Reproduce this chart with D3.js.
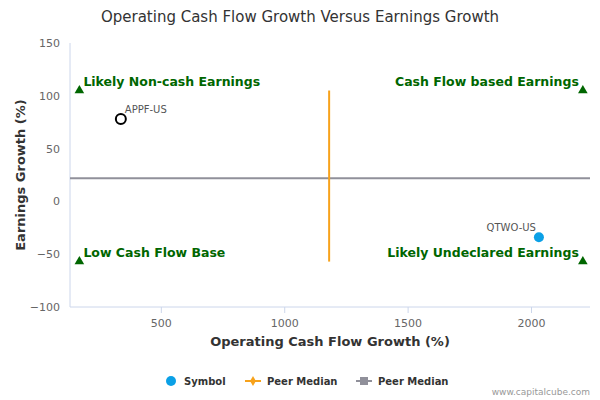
<!DOCTYPE html>
<html><head><meta charset="utf-8">
<script src="https://cdn.jsdelivr.net/npm/d3@7"></script>
<style>body{margin:0;background:#fff;font-family:"DejaVu Sans",sans-serif;}</style>
</head><body><div id="chart"></div>
<script>
var symbols = ["APPF-US", "QTWO-US"];
var cashGrowth = [338, 2032];
var earnGrowth = [78, -34];
var medianX = 1182;
var medianY = 22;
var xTicks = [500, 1000, 1500, 2000];
var yTicks = [150, 100, 50, 0, -50, -100];
var quadLabels = ["Likely Non-cash Earnings", "Cash Flow based Earnings", "Low Cash Flow Base", "Likely Undeclared Earnings"];
var triX = [170, 2210, 170, 2210];
var triY = [105, 105, -57, -57];

var svg = d3.select("#chart").append("svg").attr("width", 600).attr("height", 400);
var x = d3.scaleLinear().domain([132, 2239]).range([70, 590]);
var y = d3.scaleLinear().domain([-100, 150]).range([307, 43]);

svg.append("text").attr("x", 300).attr("y", 22).attr("text-anchor", "middle")
	.attr("font-size", 15).attr("fill", "#333").text("Operating Cash Flow Growth Versus Earnings Growth");

svg.append("line").attr("x1", 70).attr("x2", 590).attr("y1", 307).attr("y2", 307).attr("stroke", "#ccd6eb");
svg.append("line").attr("x1", 70).attr("x2", 70).attr("y1", 43).attr("y2", 307).attr("stroke", "#ccd6eb");

var xa = svg.append("g").attr("transform", "translate(0,307)")
	.call(d3.axisBottom(x).tickValues(xTicks).tickFormat(d3.format("d")).tickSize(6).tickPadding(6));
xa.select(".domain").remove();
xa.selectAll("line").attr("stroke", "#ccd6eb");
xa.selectAll("text").attr("fill", "#666").attr("font-size", 11).attr("font-family", "DejaVu Sans");

var ya = svg.append("g").attr("transform", "translate(62,0)")
	.call(d3.axisLeft(y).tickValues(yTicks).tickFormat(d3.format("d")).tickSize(0).tickPadding(2));
ya.select(".domain").remove();
ya.selectAll("text").attr("fill", "#666").attr("font-size", 11).attr("font-family", "DejaVu Sans");

svg.append("text").attr("x", 330).attr("y", 346).attr("text-anchor", "middle")
	.attr("font-size", 13).attr("font-weight", "bold").attr("fill", "#333").text("Operating Cash Flow Growth (%)");
svg.append("text").attr("transform", "translate(25,175) rotate(-90)").attr("text-anchor", "middle")
	.attr("font-size", 13).attr("font-weight", "bold").attr("fill", "#333").text("Earnings Growth (%)");

// medians
svg.append("line").attr("x1", x(132)).attr("x2", x(2239)).attr("y1", y(medianY)).attr("y2", y(medianY))
	.attr("stroke", "#90909a").attr("stroke-width", 2);
svg.append("line").attr("x1", x(medianX)).attr("x2", x(medianX)).attr("y1", y(105)).attr("y2", y(-57))
	.attr("stroke", "#f7a21b").attr("stroke-width", 2);

// quadrant markers
var tri = d3.symbol().type(d3.symbolTriangle).size(40);
quadLabels.forEach(function(t, i){
	svg.append("path").attr("d", tri).attr("transform", "translate(" + x(triX[i]) + "," + y(triY[i]) + ")").attr("fill", "#006600");
	var left = i % 2 == 0;
	svg.append("text").attr("x", left ? x(triX[i]) + 4 : x(triX[i]) - 4).attr("y", y(triY[i]) - 5)
		.attr("text-anchor", left ? "start" : "end").attr("font-size", 12.5).attr("font-weight", "bold")
		.attr("fill", "#006600").text(t);
});

// points
symbols.forEach(function(s, i){
	var cx = x(cashGrowth[i]), cy = y(earnGrowth[i]);
	if(i == 0){
		svg.append("circle").attr("cx", cx).attr("cy", cy).attr("r", 5).attr("fill", "#fff").attr("stroke", "#000").attr("stroke-width", 2);
		svg.append("text").attr("x", cx + 4).attr("y", cy - 6).attr("font-size", 10).attr("fill", "#555").text(s);
	} else {
		svg.append("circle").attr("cx", cx).attr("cy", cy).attr("r", 5).attr("fill", "#0ba0e6");
		svg.append("text").attr("x", cx - 3).attr("y", cy - 6).attr("text-anchor", "end").attr("font-size", 10).attr("fill", "#555").text(s);
	}
});

// legend
var lg = svg.append("g").attr("font-size", 10).attr("font-weight", "bold").attr("fill", "#333");
lg.append("circle").attr("cx", 171).attr("cy", 381).attr("r", 5).attr("fill", "#0ba0e6");
lg.append("text").attr("x", 184).attr("y", 385).text("Symbol");
lg.append("line").attr("x1", 245).attr("x2", 261).attr("y1", 381).attr("y2", 381).attr("stroke", "#f7a21b").attr("stroke-width", 2);
lg.append("path").attr("d", d3.symbol().type(d3.symbolDiamond).size(30)).attr("transform", "translate(253,381)").attr("fill", "#f7a21b");
lg.append("text").attr("x", 267).attr("y", 385).text("Peer Median");
lg.append("line").attr("x1", 356).attr("x2", 372).attr("y1", 381).attr("y2", 381).attr("stroke", "#90909a").attr("stroke-width", 2);
lg.append("rect").attr("x", 360).attr("y", 377).attr("width", 8).attr("height", 8).attr("fill", "#90909a");
lg.append("text").attr("x", 378).attr("y", 385).text("Peer Median");

svg.append("text").attr("x", 590).attr("y", 395).attr("text-anchor", "end").attr("font-size", 9).attr("fill", "#999").text("www.capitalcube.com");
</script></body></html>
